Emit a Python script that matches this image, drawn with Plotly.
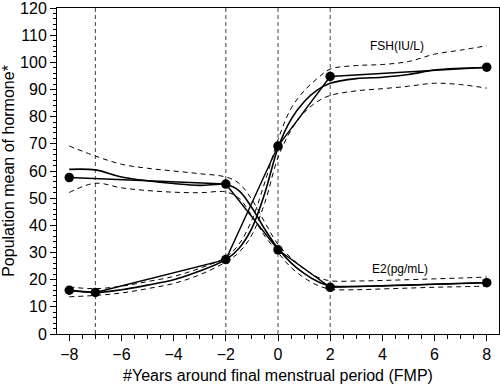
import plotly.graph_objects as go

# Observed means (dots, joined piecewise)
fsh_obs_x = [-8, -7, -2, 0, 2, 8]
fsh_obs = [16.1, 15.3, 27.4, 69.2, 94.8, 98.2]
e2_obs_x = [-8, -2, 0, 2, 8]
e2_obs = [57.6, 55.2, 31.0, 17.2, 18.9]

# Smoothed curves with confidence bands
grid_x = [-8, -7, -6, -5, -4, -3, -2, -1.5, -1, -0.5, 0, 0.5, 1, 1.5, 2, 3, 4, 5, 6, 7, 8]
fsh_fit = [16.0, 15.3, 16.3, 18.0, 20.0, 23.2, 27.4, 31.5, 39.0, 52.0, 68.5, 79.0, 85.5, 89.8, 92.3, 94.0, 94.5, 95.5, 97.2, 97.8, 98.1]
fsh_upper = [17.3, 16.7, 17.6, 19.3, 21.2, 24.2, 28.3, 33.0, 42.0, 56.0, 71.5, 83.0, 89.5, 94.0, 97.5, 98.8, 99.2, 100.3, 103.0, 104.5, 106.1]
fsh_lower = [13.7, 14.2, 15.1, 16.7, 18.6, 21.8, 26.5, 30.0, 36.5, 48.5, 65.0, 75.0, 81.5, 85.5, 87.8, 89.5, 90.3, 91.2, 92.3, 91.8, 90.5]
e2_fit = [60.6, 60.4, 57.8, 56.4, 55.4, 54.7, 55.0, 52.8, 46.5, 38.5, 31.5, 26.2, 22.3, 19.4, 17.7, 17.5, 17.7, 18.0, 18.3, 18.6, 18.9]
e2_upper = [69.2, 65.5, 62.5, 61.0, 60.0, 59.0, 57.8, 55.5, 49.5, 41.0, 33.0, 28.0, 24.0, 21.0, 19.6, 19.5, 19.7, 20.0, 20.3, 20.6, 21.0]
e2_lower = [52.1, 55.5, 53.8, 52.8, 52.2, 52.0, 52.3, 50.0, 43.5, 36.0, 30.0, 24.5, 20.7, 18.0, 16.5, 16.3, 16.6, 16.9, 17.2, 17.4, 17.6]

vlines_x = [-7, -2, 0, 2]
labels = ["FSH(IU/L)", "E2(pg/mL)"]
label_x = [4.56, 4.68]
label_y = [106.1, 24.0]

FONT = "Liberation Sans, Arial, sans-serif"

fig = go.Figure()

for up, lo in [(fsh_upper, fsh_lower), (e2_upper, e2_lower)]:
    for band in (up, lo):
        fig.add_trace(go.Scatter(x=grid_x, y=band, mode="lines",
                                 line=dict(color="black", width=1, dash="5px,4px", shape="spline", smoothing=1.0),
                                 hoverinfo="skip", showlegend=False))

for fit in (fsh_fit, e2_fit):
    fig.add_trace(go.Scatter(x=grid_x, y=fit, mode="lines",
                             line=dict(color="black", width=1.6, shape="spline", smoothing=1.0),
                             showlegend=False))

for ox, oy in [(fsh_obs_x, fsh_obs), (e2_obs_x, e2_obs)]:
    fig.add_trace(go.Scatter(x=ox, y=oy, mode="lines+markers",
                             line=dict(color="black", width=1.4),
                             marker=dict(color="black", size=9.5),
                             showlegend=False))

for vx in vlines_x:
    fig.add_shape(type="line", x0=vx, x1=vx, y0=0, y1=1, xref="x", yref="paper",
                  line=dict(color="#444444", width=1, dash="4px,3px"), layer="below")

for t, lx, ly in zip(labels, label_x, label_y):
    fig.add_annotation(x=lx, y=ly, text=t, showarrow=False,
                       font=dict(family=FONT, size=12, color="black"))

fig.update_layout(
    width=500, height=388,
    margin=dict(l=57, r=1, t=8, b=54, autoexpand=False),
    plot_bgcolor="white", paper_bgcolor="white",
    font=dict(family=FONT, color="black", size=16),
    xaxis=dict(range=[-8.47, 8.47], tickvals=[-8, -6, -4, -2, 0, 2, 4, 6, 8],
               ticks="outside", ticklen=6, tickcolor="black", showgrid=False, zeroline=False,
               showline=True, linecolor="black", linewidth=1, mirror=True, automargin=False,
               ticklabeloverflow="allow",
               minor=dict(dtick=0.5, tick0=0, ticks="outside", ticklen=4, tickcolor="black"),
               tickfont=dict(size=16),
               title=dict(text="#Years around final menstrual period (FMP)", font=dict(size=16), standoff=7)),
    yaxis=dict(range=[0, 120], dtick=10, tick0=0,
               ticks="outside", ticklen=6, tickcolor="black", showgrid=False, zeroline=False,
               showline=True, linecolor="black", linewidth=1, mirror=True, automargin=False,
               ticklabeloverflow="allow",
               minor=dict(dtick=2, tick0=0, ticks="outside", ticklen=3, tickcolor="black"),
               tickfont=dict(size=16),
               title=dict(text="Population mean of hormone*", font=dict(size=16), standoff=1)),
)

fig.write_html("out.html", config={"displayModeBar": False},
               post_script="document.body.style.margin='0';document.body.style.overflow='hidden';")
